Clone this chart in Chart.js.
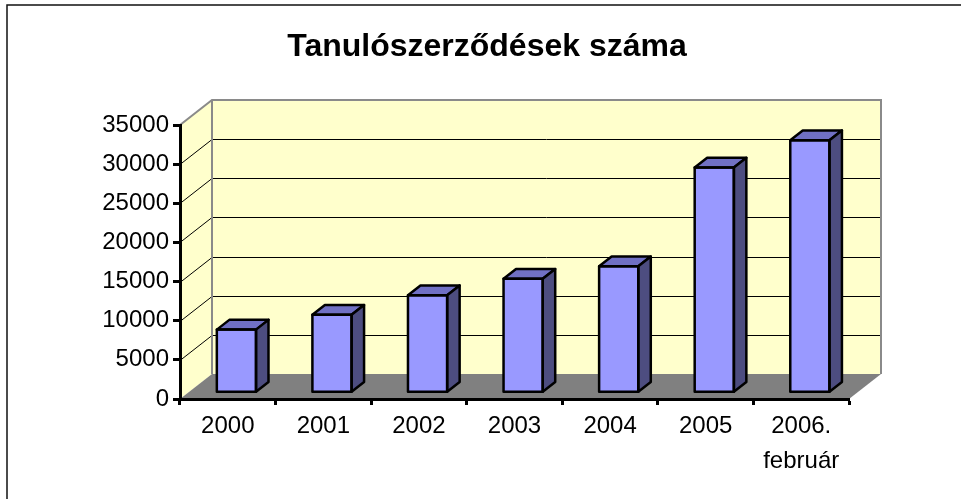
<!DOCTYPE html>
<html>
<head>
<meta charset="utf-8">
<script src="https://cdn.jsdelivr.net/npm/chart.js@4/dist/chart.umd.min.js"></script>
<style>
  html, body { margin: 0; padding: 0; background: #fff; }
  canvas { display: block; }
</style>
</head>
<body>
<canvas id="chart" width="961" height="499"></canvas>
<script>
const years = ["2000", "2001", "2002", "2003", "2004", "2005", ["2006.", "február"]];
const contracts = [8000, 9900, 12400, 14500, 16100, 28700, 32200];
const yTicks = [0, 5000, 10000, 15000, 20000, 25000, 30000, 35000];

// oblique depth of the 3D box, and where the bars sit inside it
const DX = 32, DY = -25;
const F0 = 0.27, F1 = 0.66;

function poly(ctx, pts) {
  ctx.beginPath();
  ctx.moveTo(pts[0][0], pts[0][1]);
  pts.slice(1).forEach((p) => ctx.lineTo(p[0], p[1]));
  ctx.closePath();
}

const walls = {
  id: "walls",
  beforeDraw(chart) {
    const { ctx, chartArea: a, scales } = chart;
    const y = scales.y;
    ctx.save();
    ctx.fillStyle = "#fff";
    ctx.fillRect(0, 0, chart.width, chart.height);

    ctx.strokeStyle = "#111";
    ctx.lineWidth = 1.5;
    ctx.strokeRect(7, 5, chart.width + 40, chart.height + 40);

    ctx.fillStyle = "#FFFFCC";
    poly(ctx, [[a.left, a.top], [a.left + DX, a.top + DY], [a.left + DX, a.bottom + DY], [a.left, a.bottom]]);
    ctx.fill();
    ctx.fillRect(a.left + DX, a.top + DY, a.width, a.height);

    ctx.fillStyle = "#808080";
    poly(ctx, [[a.left, a.bottom], [a.left + DX, a.bottom + DY], [a.right + DX, a.bottom + DY], [a.right, a.bottom]]);
    ctx.fill();

    ctx.strokeStyle = "#000";
    ctx.lineWidth = 1;
    yTicks.forEach((v) => {
      if (v <= 0 || v >= 35000) return;
      const py = Math.round(y.getPixelForValue(v)) + 0.5;
      ctx.beginPath();
      ctx.moveTo(a.left, py);
      ctx.lineTo(a.left + DX, py + DY);
      ctx.lineTo(a.right + DX, py + DY);
      ctx.stroke();
    });

    ctx.strokeStyle = "#8a8a8a";
    ctx.lineWidth = 2;
    ctx.beginPath();
    ctx.moveTo(a.left, a.top);
    ctx.lineTo(a.left + DX, a.top + DY);
    ctx.lineTo(a.right + DX, a.top + DY);
    ctx.lineTo(a.right + DX, a.bottom + DY);
    ctx.moveTo(a.left + DX, a.top + DY);
    ctx.lineTo(a.left + DX, a.bottom + DY);
    ctx.stroke();
    ctx.restore();
  },
  beforeDatasetsDraw(chart) {
    chart.ctx.save();
    chart.ctx.translate(DX * F0, DY * F0);
  },
  afterDatasetsDraw(chart) {
    const ctx = chart.ctx;
    ctx.restore();
    const ox = DX * F0, oy = DY * F0;
    const dx = DX * (F1 - F0), dy = DY * (F1 - F0);
    ctx.save();
    ctx.strokeStyle = "#000";
    ctx.lineWidth = 2.5;
    ctx.lineJoin = "round";
    chart.getDatasetMeta(0).data.forEach((bar) => {
      const p = bar.getProps(["x", "y", "base", "width"], true);
      const l = p.x - p.width / 2 + ox, r = p.x + p.width / 2 + ox;
      const t = p.y + oy, b = p.base + oy;
      ctx.fillStyle = "#7070C4";
      poly(ctx, [[l, t], [l + dx, t + dy], [r + dx, t + dy], [r, t]]);
      ctx.fill();
      ctx.stroke();
      ctx.fillStyle = "#4D4D80";
      poly(ctx, [[r, t], [r + dx, t + dy], [r + dx, b + dy], [r, b]]);
      ctx.fill();
      ctx.stroke();
      poly(ctx, [[l, t], [r, t], [r, b], [l, b]]);
      ctx.stroke();
    });
    ctx.restore();
  },
};

const font = { family: "'Liberation Sans', Arial, sans-serif", size: 24 };

new Chart(document.getElementById("chart"), {
  type: "bar",
  data: {
    labels: years,
    datasets: [
      {
        data: contracts,
        backgroundColor: "#9999FF",
        borderWidth: 0,
        categoryPercentage: 1,
        barPercentage: 0.41,
      },
    ],
  },
  options: {
    responsive: false,
    devicePixelRatio: 1,
    animation: false,
    layout: { padding: { left: 13, right: 0, top: 0, bottom: 0 } },
    plugins: {
      legend: { display: false },
      tooltip: { enabled: false },
      title: {
        display: true,
        text: "Tanulószerződések száma",
        color: "#000",
        font: { family: "'Liberation Sans', Arial, sans-serif", size: 32, weight: "bold", lineHeight: 1.2 },
        padding: { top: 28, bottom: 58.6 },
      },
    },
    scales: {
      x: {
        grid: { drawOnChartArea: false, tickLength: 6, tickColor: "#000", tickWidth: 3 },
        border: { display: true, color: "#000", width: 3 },
        ticks: { color: "#000", font: { ...font, lineHeight: 1.45 }, padding: 4, maxRotation: 0, autoSkip: false },
        afterFit: (s) => { s.height = 100; },
      },
      y: {
        min: 0,
        max: 35000,
        afterBuildTicks: (s) => { s.ticks = yTicks.map((v) => ({ value: v })); },
        grid: { drawOnChartArea: false, tickLength: 7, tickColor: "#000", tickWidth: 3 },
        border: { display: true, color: "#000", width: 3 },
        ticks: { color: "#000", font, padding: 4, callback: (v) => String(v) },
        afterFit: (s) => { s.width = 167; },
      },
      yRight: {
        type: "linear",
        axis: "y",
        position: "right",
        grid: { display: false },
        border: { display: false },
        ticks: { display: false },
        afterFit: (s) => { s.width = 112; },
      },
    },
  },
  plugins: [walls],
});
</script>
</body>
</html>
